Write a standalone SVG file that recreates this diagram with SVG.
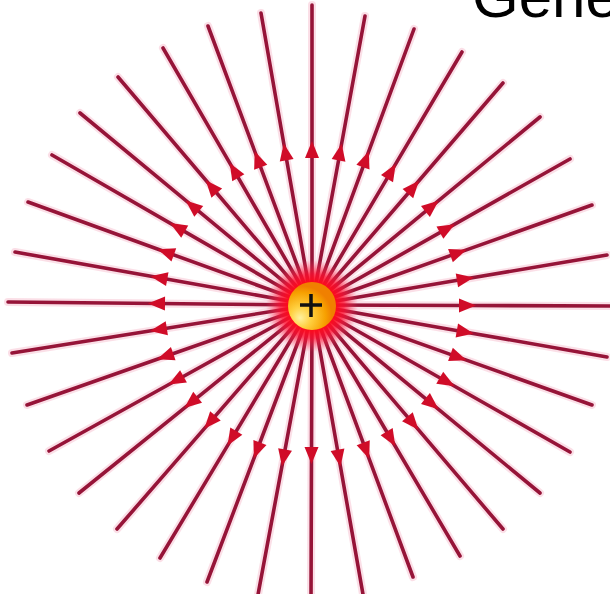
<svg xmlns="http://www.w3.org/2000/svg" width="610" height="594" viewBox="0 0 610 594">
  <style>
    .halo { fill: none; stroke: #f7c0d0; stroke-width: 8; stroke-linecap: round; opacity: 0.5; }
    .field { fill: none; stroke: #961438; stroke-width: 3.6; stroke-linecap: round; marker-mid: url(#arrow); }
    .title { font-family: "Liberation Sans", Arial, sans-serif; font-size: 60px; fill: #000; }
  </style>
  <defs>
    <marker id="arrow" viewBox="-9 -8 18 16" markerWidth="18" markerHeight="16" markerUnits="userSpaceOnUse" orient="auto">
      <path d="M-8,-7 L9,0 L-8,7 Z" fill="#d00c28"/>
    </marker>
    <radialGradient id="glow" cx="312" cy="306" r="46" gradientUnits="userSpaceOnUse">
      <stop offset="0.5" stop-color="#ff0a1a" stop-opacity="1"/>
      <stop offset="0.7" stop-color="#ff1030" stop-opacity="0.75"/>
      <stop offset="1" stop-color="#ff4060" stop-opacity="0"/>
    </radialGradient>
    <radialGradient id="ball" cx="302" cy="316" r="30" fx="300" fy="318" gradientUnits="userSpaceOnUse">
      <stop offset="0" stop-color="#fff2a0"/>
      <stop offset="0.35" stop-color="#ffd040"/>
      <stop offset="0.8" stop-color="#f7a000"/>
      <stop offset="1" stop-color="#f08000"/>
    </radialGradient>
  </defs>
  <rect width="610" height="594" fill="#ffffff"/>

  <text class="title" x="472" y="17">Gene</text>

  <g id="field-lines">
    <g id="halos">
      <path class="halo" d="M312 305 L312 5"/>
      <path class="halo" d="M312 305 L365 16"/>
      <path class="halo" d="M312 305 L414 29"/>
      <path class="halo" d="M312 305 L462 52"/>
      <path class="halo" d="M312 305 L503 83"/>
      <path class="halo" d="M312 305 L540 117"/>
      <path class="halo" d="M312 305 L570 159"/>
      <path class="halo" d="M312 305 L592 205"/>
      <path class="halo" d="M312 305 L607 255"/>
      <path class="halo" d="M312 305 L612 306"/>
      <path class="halo" d="M312 305 L607 357"/>
      <path class="halo" d="M312 305 L592 405"/>
      <path class="halo" d="M312 305 L570 452"/>
      <path class="halo" d="M312 305 L540 493"/>
      <path class="halo" d="M312 305 L503 529"/>
      <path class="halo" d="M312 305 L460 556"/>
      <path class="halo" d="M312 305 L413 577"/>
      <path class="halo" d="M312 305 L364 600"/>
      <path class="halo" d="M312 305 L311 600"/>
      <path class="halo" d="M312 305 L257 600"/>
      <path class="halo" d="M312 305 L207 582"/>
      <path class="halo" d="M312 305 L160 558"/>
      <path class="halo" d="M312 305 L117 529"/>
      <path class="halo" d="M312 305 L79 493"/>
      <path class="halo" d="M312 305 L49 451"/>
      <path class="halo" d="M312 305 L27 405"/>
      <path class="halo" d="M312 305 L12 353"/>
      <path class="halo" d="M312 305 L8 302"/>
      <path class="halo" d="M312 305 L15 252"/>
      <path class="halo" d="M312 305 L28 202"/>
      <path class="halo" d="M312 305 L52 155"/>
      <path class="halo" d="M312 305 L80 113"/>
      <path class="halo" d="M312 305 L118 77"/>
      <path class="halo" d="M312 305 L163 48"/>
      <path class="halo" d="M312 305 L208 26"/>
      <path class="halo" d="M312 305 L261 13"/>
    </g>
    <path class="field" d="M312 305 L312 150 L312 5"/>
    <path class="field" d="M312 305 L340 152.5 L365 16"/>
    <path class="field" d="M312 305 L365.7 159.6 L414 29"/>
    <path class="field" d="M312 305 L391.1 171.7 L462 52"/>
    <path class="field" d="M312 305 L413.1 187.5 L503 83"/>
    <path class="field" d="M312 305 L431.6 206.4 L540 117"/>
    <path class="field" d="M312 305 L446.9 228.6 L570 159"/>
    <path class="field" d="M312 305 L458 252.9 L592 205"/>
    <path class="field" d="M312 305 L464.8 279.1 L607 255"/>
    <path class="field" d="M312 305 L467 305.5 L612 306"/>
    <path class="field" d="M312 305 L464.7 331.9 L607 357"/>
    <path class="field" d="M312 305 L458 357.1 L592 405"/>
    <path class="field" d="M312 305 L446.7 381.7 L570 452"/>
    <path class="field" d="M312 305 L431.6 403.6 L540 493"/>
    <path class="field" d="M312 305 L412.6 422.9 L503 529"/>
    <path class="field" d="M312 305 L390.7 438.5 L460 556"/>
    <path class="field" d="M312 305 L366 450.3 L413 577"/>
    <path class="field" d="M312 305 L338.9 457.7 L364 600"/>
    <path class="field" d="M312 305 L311.5 455 L311 600"/>
    <path class="field" d="M312 305 L283.6 457.4 L257 600"/>
    <path class="field" d="M312 305 L257.1 450 L207 582"/>
    <path class="field" d="M312 305 L232.2 437.9 L160 558"/>
    <path class="field" d="M312 305 L210.2 421.9 L117 529"/>
    <path class="field" d="M312 305 L191.4 402.3 L79 493"/>
    <path class="field" d="M312 305 L176.5 380.2 L49 451"/>
    <path class="field" d="M312 305 L165.7 356.3 L27 405"/>
    <path class="field" d="M312 305 L158.9 329.5 L12 353"/>
    <path class="field" d="M312 305 L157 303.5 L8 302"/>
    <path class="field" d="M312 305 L159.4 277.8 L15 252"/>
    <path class="field" d="M312 305 L166.3 252.2 L28 202"/>
    <path class="field" d="M312 305 L177.8 227.6 L52 155"/>
    <path class="field" d="M312 305 L192.6 206.2 L80 113"/>
    <path class="field" d="M312 305 L211.6 187 L118 77"/>
    <path class="field" d="M312 305 L234.3 170.9 L163 48"/>
    <path class="field" d="M312 305 L257.9 159.8 L208 26"/>
    <path class="field" d="M312 305 L285.3 152.3 L261 13"/>
  </g>

  <g id="charge">
    <circle cx="312" cy="306" r="46" fill="url(#glow)"/>
    <circle cx="312" cy="306" r="24" fill="url(#ball)"/>
    <path d="M300 305 H322 M311 294 V317" stroke="#111" stroke-width="3.5" fill="none"/>
  </g>
</svg>
